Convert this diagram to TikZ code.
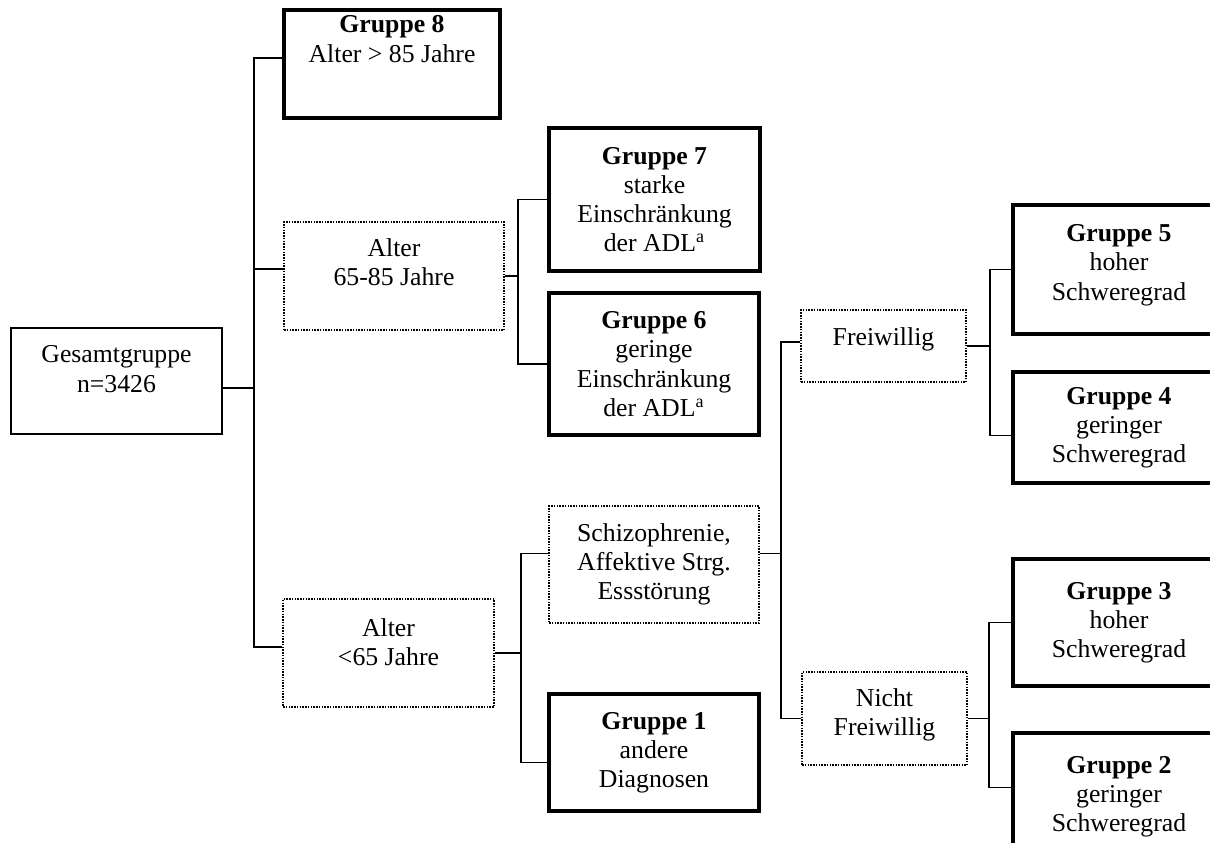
\documentclass[tikz,border=0pt]{standalone}
\usepackage{fontspec}
\setmainfont{Liberation Serif}
\usepackage{tikz}
\usetikzlibrary{calc}

\begin{document}
% y grows downward, one unit = one pixel of the scan
\begin{tikzpicture}[x=0.4pt,y=-0.4pt,
  font=\fontsize{10.3}{11.7}\selectfont,
  box/.style={draw,line width=0.8pt,align=center,inner sep=0pt},
  grp/.style={box,line width=1.6pt},
  split/.style={box,line width=0.6pt,dash pattern=on 0.6pt off 0.5pt},
  dim/.style 2 args={minimum width=#1*0.4pt,minimum height=#2*0.4pt},
  link/.style={line width=0.75pt}]
  \useasboundingbox (0,0) rectangle (1210,842);
  \clip (0,0) rectangle (1210,842);

  \node[box,dim={211}{106}] (ges) at (116.5,381) {Gesamtgruppe\\n=3426\\[-2pt]};

  \node[grp,dim={216}{108}] (g8) at (392,64) {\textbf{Gruppe 8}\\Alter > 85 Jahre\\[8.4pt]};
  \node[split,dim={220}{108}] (a6585) at (394,276) {Alter\\65-85 Jahre\\[-0.8pt]};
  \node[split,dim={211}{108}] (a65) at (388.5,653) {Alter\\<65 Jahre\\[-2.8pt]};

  \node[grp,dim={211}{143}] (g7) at (654.5,199.5) {\textbf{Gruppe 7}\\starke\\Einschränkung\\der ADL\textsuperscript{a}};
  \node[grp,dim={210}{142}] (g6) at (654,364) {\textbf{Gruppe 6}\\geringe\\Einschränkung\\der ADL\textsuperscript{a}};
  \node[split,dim={210}{117}] (diag) at (654,564.5) {Schizophrenie,\\Affektive Strg.\\Essstörung};
  \node[grp,dim={210}{117}] (g1) at (654,752.5) {\textbf{Gruppe 1}\\andere\\Diagnosen};

  \node[split,dim={165}{72}] (frei) at (883.5,346) {Freiwillig\\[-4.4pt]};
  \node[split,dim={165}{93}] (nfrei) at (884.5,718.5) {Nicht\\Freiwillig\\[-6.8pt]};

  \node[grp,dim={212}{129}] (g5) at (1119,269.5) {\textbf{Gruppe 5}\\hoher\\Schweregrad\\[-6pt]};
  \node[grp,dim={212}{111}] (g4) at (1119,427.5) {\textbf{Gruppe 4}\\geringer\\Schweregrad};
  \node[grp,dim={212}{127}] (g3) at (1119,622.5) {\textbf{Gruppe 3}\\hoher\\Schweregrad};
  \node[grp,dim={212}{127}] (g2) at (1119,796.5) {\textbf{Gruppe 2}\\geringer\\Schweregrad};

  % Alter
  \coordinate (j1) at (254,388);
  \draw[link] ($(ges.east)+(0,7)$) -- (j1);
  \draw[link] ($(g8.west)+(0,-6)$) -| (j1);
  \draw[link] ($(a6585.west)+(0,-7)$) -| (j1);
  \draw[link] ($(a65.west)+(0,-6)$) -| (j1);

  % ADL
  \coordinate (j2) at (518,276);
  \draw[link] (a6585.east) -- (j2);
  \draw[link] (g7.west) -| (j2);
  \draw[link] (g6.west) -| (j2);

  % Diagnose
  \coordinate (j3) at (521,653);
  \draw[link] (a65.east) -- (j3);
  \draw[link] ($(diag.west)+(0,-11)$) -| (j3);
  \draw[link] ($(g1.west)+(0,10)$) -| (j3);

  % Freiwilligkeit
  \coordinate (j4) at (781,553.5);
  \draw[link] ($(diag.east)+(0,-11)$) -- (j4);
  \draw[link] ($(frei.west)+(0,-4)$) -| (j4);
  \draw[link] (nfrei.west) -| (j4);

  % Schweregrad
  \coordinate (j5) at (990,346);
  \draw[link] (frei.east) -- (j5);
  \draw[link] (g5.west) -| (j5);
  \draw[link] ($(g4.west)+(0,8)$) -| (j5);
  \coordinate (j6) at (989,718.5);
  \draw[link] (nfrei.east) -- (j6);
  \draw[link] (g3.west) -| (j6);
  \draw[link] ($(g2.west)+(0,-9)$) -| (j6);
\end{tikzpicture}
\end{document}
